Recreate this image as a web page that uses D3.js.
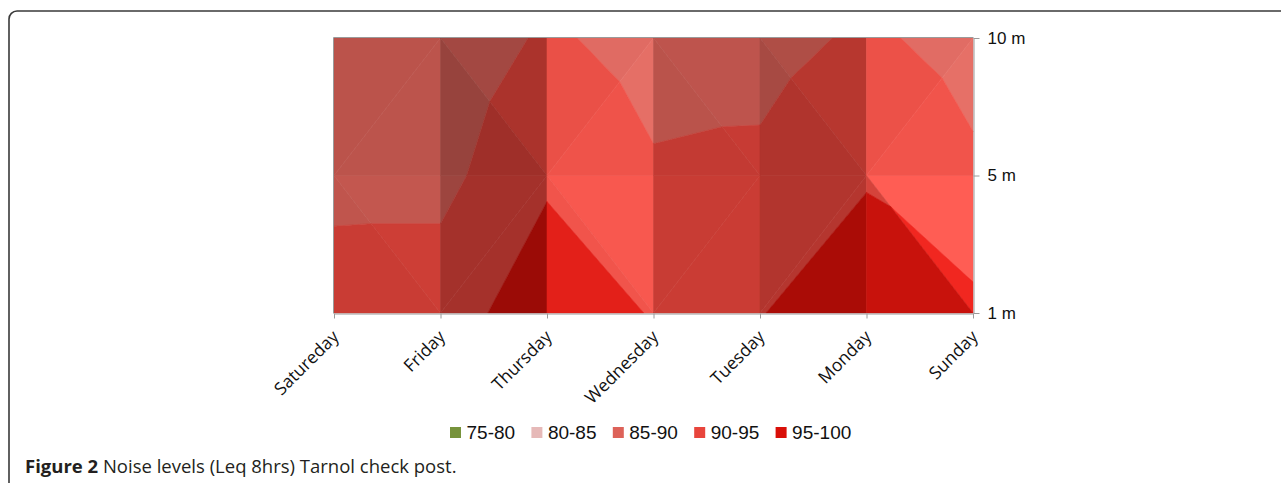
<!DOCTYPE html>
<html>
<head>
<meta charset="utf-8">
<script src="https://cdn.jsdelivr.net/npm/d3@7"></script>
<style>
  body { margin: 0; background: #ffffff; }
  svg { display: block; }
</style>
</head>
<body>
<svg id="chart" width="1281" height="483"></svg>
<script>
// Noise levels, Leq 8 hrs (dB), Tarnol check post, by day and measuring height
const days = ["Satureday", "Friday", "Thursday", "Wednesday", "Tuesday", "Monday", "Sunday"];
const heights = ["1 m", "5 m", "10 m"];
const level1m  = [92.4, 92.6, 98.0, 94.7, 94.85, 97.5, 96.2];
const level5m  = [88.6, 88.6, 94.3, 90.6, 91.1, 94.65, 90.9];
const level10m = [85.8, 86.3, 90.8, 88.0, 88.1, 90.9, 88.1];

// Surface bands
const bandEdges  = [75, 80, 85, 90, 95, 100];
const bandLabels = ["75-80", "80-85", "85-90", "90-95", "95-100"];
const bandColors = ["#77933C", "#E6B9B8", "#DD6259", "#E8453C", "#D90F08"];

const figureLabel = "Figure 2";
const figureText = " Noise levels (Leq 8hrs) Tarnol check post.";

// rows of the grid, bottom (1 m) to top (10 m)
const grid = [level1m, level5m, level10m];

const svg = d3.select("#chart");

// caption frame
svg.append("rect")
  .attr("x", 9).attr("y", 11)
  .attr("width", 1320).attr("height", 520)
  .attr("rx", 8).attr("ry", 8)
  .attr("fill", "none")
  .attr("stroke", "#3a3a3a")
  .attr("stroke-width", 1.6);

const x = d3.scalePoint().domain(days).range([334, 973]);
const y = d3.scalePoint().domain(heights).range([313, 38]);

const plot = svg.append("g");

// one grid node
function node(c, r) {
  return { u: c, w: r, px: x(days[c]), py: y(heights[r]), v: grid[r][c] };
}

// split each cell along the diagonal whose corners hold the larger sum
const triangles = [];
for (let r = 0; r < heights.length - 1; r++) {
  for (let c = 0; c < days.length - 1; c++) {
    const BL = node(c, r), BR = node(c + 1, r), TL = node(c, r + 1), TR = node(c + 1, r + 1);
    if (TL.v + BR.v >= BL.v + TR.v) {
      triangles.push([TL, TR, BR], [TL, BL, BR]);
    } else {
      triangles.push([BL, TL, TR], [BL, BR, TR]);
    }
  }
}

// plane gradient of a facet in grid units
function gradient(t) {
  const [a, b, c] = t;
  const u1 = b.u - a.u, w1 = b.w - a.w, v1 = b.v - a.v;
  const u2 = c.u - a.u, w2 = c.w - a.w, v2 = c.v - a.v;
  const nx = w1 * v2 - v1 * w2;
  const ny = v1 * u2 - u1 * v2;
  const nz = u1 * w2 - w1 * u2;
  return { dx: -nx / nz, dy: -ny / nz };
}

// facet lighting: light falls from the lower right
function shade(hex, g) {
  const s = -0.04 * g.dx + 0.02 * (-g.dy - 3.5);
  const col = d3.rgb(hex);
  const f = (ch) => {
    let val = ch * 0.87;
    if (s < 0) val = val * (1 + 0.85 * s);
    else val = val * (1 + 0.8 * s) + 127 * s;
    return Math.max(0, Math.min(255, Math.round(val)));
  };
  return d3.rgb(f(col.r), f(col.g), f(col.b)).formatHex();
}

// clip a polygon to the half-space where sign*(v - level) >= 0
function clip(poly, level, sign) {
  const out = [];
  for (let i = 0; i < poly.length; i++) {
    const p = poly[i], q = poly[(i + 1) % poly.length];
    const fp = sign * (p.v - level), fq = sign * (q.v - level);
    if (fp >= 0) out.push(p);
    if ((fp >= 0) !== (fq >= 0)) {
      const t = fp / (fp - fq);
      out.push({
        px: p.px + t * (q.px - p.px),
        py: p.py + t * (q.py - p.py),
        v: p.v + t * (q.v - p.v)
      });
    }
  }
  return out;
}

const line = d3.line().x(d => d.px).y(d => d.py).curve(d3.curveLinearClosed);

const pieces = [];
triangles.forEach(t => {
  const g = gradient(t);
  bandLabels.forEach((label, i) => {
    let poly = clip(t, bandEdges[i], 1);
    if (poly.length >= 3) poly = clip(poly, bandEdges[i + 1], -1);
    if (poly.length >= 3) pieces.push({ poly, color: shade(bandColors[i], g) });
  });
});

plot.selectAll("path.facet")
  .data(pieces)
  .join("path")
  .attr("class", "facet")
  .attr("d", d => line(d.poly))
  .attr("fill", d => d.color)
  .attr("stroke", d => d.color)
  .attr("stroke-width", 0.6)
  .attr("stroke-linejoin", "round");

// plot frame
const frame = svg.append("g").attr("stroke", "#9a9a9a").attr("stroke-width", 1).attr("fill", "none");
frame.append("line").attr("x1", 333.5).attr("x2", 973.5).attr("y1", 37.5).attr("y2", 37.5);
frame.append("line").attr("x1", 333.5).attr("x2", 333.5).attr("y1", 37.5).attr("y2", 313.5);

// right (height) axis
const yAxis = svg.append("g")
  .attr("transform", "translate(973.5,0)")
  .call(d3.axisRight(y).tickSize(6).tickSizeOuter(0).tickPadding(8));
yAxis.select(".domain").attr("stroke", "#9a9a9a");
yAxis.selectAll(".tick line").attr("stroke", "#9a9a9a");
yAxis.selectAll(".tick text")
  .attr("fill", "#111")
  .style("font-family", "'Liberation Sans', Arial, sans-serif")
  .style("font-size", "17px");

// bottom (day) axis
const xAxis = svg.append("g")
  .attr("transform", "translate(0,313.5)")
  .call(d3.axisBottom(x).tickSize(5).tickSizeOuter(0));
xAxis.select(".domain").attr("stroke", "#9a9a9a");
xAxis.selectAll(".tick line").attr("stroke", "#9a9a9a");
xAxis.selectAll(".tick text")
  .attr("fill", "#111")
  .attr("text-anchor", "end")
  .attr("x", 0).attr("y", 0).attr("dy", "0.35em")
  .attr("transform", "translate(1,20) rotate(-45)")
  .style("font-family", "'Open Sans', sans-serif")
  .style("font-size", "17.5px");

// legend
const legend = svg.append("g").attr("transform", "translate(450,427)");
const item = legend.selectAll("g")
  .data(bandLabels)
  .join("g")
  .attr("transform", (d, i) => `translate(${i * 81.4},0)`);
item.append("rect")
  .attr("width", 11).attr("height", 11)
  .attr("fill", (d, i) => bandColors[i]);
item.append("text")
  .attr("x", 16.5).attr("y", 11.8)
  .attr("fill", "#111")
  .style("font-family", "'Liberation Sans', Arial, sans-serif")
  .style("font-size", "19px")
  .text(d => d);

// caption
const cap = svg.append("text")
  .attr("x", 25).attr("y", 473)
  .attr("fill", "#231f20")
  .style("font-family", "'Open Sans', sans-serif")
  .style("font-size", "18.5px");
cap.append("tspan").attr("font-weight", "bold").text(figureLabel);
cap.append("tspan").text(figureText);
</script>
</body>
</html>
